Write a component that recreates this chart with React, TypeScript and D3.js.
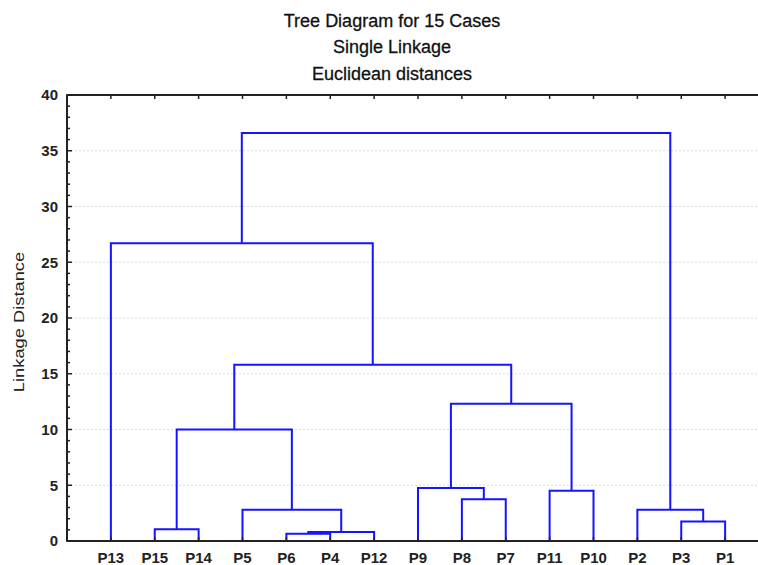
import React, { useRef, useEffect } from 'react';
import { select, scaleLinear, range } from 'd3';

// leaf order along the x axis
const leafLabels = ['P13', 'P15', 'P14', 'P5', 'P6', 'P4', 'P12', 'P9', 'P8', 'P7', 'P11', 'P10', 'P2', 'P3', 'P1'];

// linkage steps: cluster id, the two members joined, linkage distance
const clusterIds = ['C1', 'C2', 'C3', 'C4', 'C5', 'C6', 'C7', 'C8', 'C9', 'C10', 'C11', 'C12', 'C13', 'C14'];
const mergeLeft = ['P6', 'C1', 'P15', 'P3', 'P5', 'P2', 'P8', 'P11', 'P9', 'C3', 'C9', 'C10', 'P13', 'C13'];
const mergeRight = ['P4', 'P12', 'P14', 'P1', 'C2', 'C4', 'P7', 'P10', 'C7', 'C5', 'C8', 'C11', 'C12', 'C6'];
const mergeDist = [0.65, 0.8, 1.05, 1.75, 2.8, 2.8, 3.75, 4.5, 4.75, 10.0, 12.3, 15.8, 26.7, 36.6];

const yTicks = [0, 5, 10, 15, 20, 25, 30, 35, 40];
const titleLines = ['Tree Diagram for 15 Cases', 'Single Linkage', 'Euclidean distances'];

const W = 758;
const H = 565;
const FONT = '"Liberation Sans", Arial, sans-serif';

export default function App() {
  const svgRef = useRef<SVGSVGElement>(null);

  useEffect(() => {
    const svg = select(svgRef.current);
    svg.selectAll('*').remove();

    const x = scaleLinear().domain([0, leafLabels.length + 1]).range([67, 769]);
    const y = scaleLinear().domain([0, 40]).range([541, 95]);
    const right = W;

    // node positions
    const posX: Record<string, number> = {};
    const posY: Record<string, number> = {};
    leafLabels.forEach((d, i) => {
      posX[d] = x(i + 1);
      posY[d] = 0;
    });
    clusterIds.forEach((id, i) => {
      posX[id] = (posX[mergeLeft[i]] + posX[mergeRight[i]]) / 2;
      posY[id] = mergeDist[i];
    });

    // grid
    svg
      .append('g')
      .selectAll('line')
      .data(yTicks.filter((t) => t > 0 && t < 40))
      .join('line')
      .attr('x1', x(0))
      .attr('x2', right)
      .attr('y1', (d) => y(d))
      .attr('y2', (d) => y(d))
      .attr('stroke', '#dcdcdc')
      .attr('stroke-width', 1)
      .attr('stroke-dasharray', '2,2');

    // dendrogram
    const tree = svg.append('g').attr('fill', 'none').attr('stroke', '#1414ff').attr('stroke-width', 2);
    clusterIds.forEach((id, i) => {
      const a = mergeLeft[i];
      const b = mergeRight[i];
      const h = y(mergeDist[i]);
      tree
        .append('path')
        .attr('d', `M${posX[a]},${y(posY[a])}V${h}H${posX[b]}V${y(posY[b])}`);
    });

    // axes
    const axes = svg.append('g').attr('stroke', '#222').attr('stroke-width', 2);
    axes.append('line').attr('x1', x(0)).attr('x2', x(0)).attr('y1', y(40)).attr('y2', y(0));
    axes.append('line').attr('x1', x(0)).attr('x2', right).attr('y1', y(0)).attr('y2', y(0));
    axes.append('line').attr('x1', x(0)).attr('x2', right).attr('y1', y(40)).attr('y2', y(40));

    const ticks = svg.append('g').attr('stroke', '#222').attr('stroke-width', 1.5);
    ticks
      .selectAll('line.minor')
      .data(range(0, 41))
      .join('line')
      .attr('class', 'minor')
      .attr('x1', x(0) - 1)
      .attr('x2', (d) => (d % 5 === 0 ? x(0) + 5 : x(0) + 3))
      .attr('y1', (d) => y(d))
      .attr('y2', (d) => y(d));
    ticks
      .selectAll('line.bot')
      .data(leafLabels)
      .join('line')
      .attr('class', 'bot')
      .attr('x1', (d) => posX[d])
      .attr('x2', (d) => posX[d])
      .attr('y1', y(0))
      .attr('y2', y(0) - 4);
    ticks
      .selectAll('line.top')
      .data(leafLabels)
      .join('line')
      .attr('class', 'top')
      .attr('x1', (d) => posX[d])
      .attr('x2', (d) => posX[d])
      .attr('y1', y(40))
      .attr('y2', y(40) + 4);

    // tick labels
    svg
      .append('g')
      .selectAll('text')
      .data(yTicks)
      .join('text')
      .attr('x', 58)
      .attr('y', (d) => y(d))
      .attr('dy', '0.36em')
      .attr('text-anchor', 'end')
      .attr('font-family', FONT)
      .attr('font-size', 15)
      .attr('font-weight', 'bold')
      .attr('fill', '#222')
      .text((d) => d);

    svg
      .append('g')
      .selectAll('text')
      .data(leafLabels)
      .join('text')
      .attr('x', (d) => posX[d])
      .attr('y', 563)
      .attr('text-anchor', 'middle')
      .attr('font-family', FONT)
      .attr('font-size', 15)
      .attr('font-weight', 'bold')
      .attr('fill', '#222')
      .text((d) => d);

    // axis title
    svg
      .append('text')
      .attr('transform', `translate(24,322) rotate(-90) scale(1.22,1)`)
      .attr('text-anchor', 'middle')
      .attr('font-family', FONT)
      .attr('font-size', 15)
      .attr('fill', '#222')
      .text('Linkage Distance');

    // title
    svg
      .append('g')
      .selectAll('text')
      .data(titleLines)
      .join('text')
      .attr('x', 392)
      .attr('y', (d, i) => 26.5 + i * 26.7)
      .attr('text-anchor', 'middle')
      .attr('font-family', FONT)
      .attr('font-size', 18)
      .attr('fill', '#111')
      .attr('stroke', '#111')
      .attr('stroke-width', 0.3)
      .text((d) => d);
  }, []);

  return (
    <div style={{ position: 'absolute', left: 0, top: 0 }}>
      <svg ref={svgRef} width={W} height={H} style={{ display: 'block', background: '#fff' }}></svg>
    </div>
  );
}
